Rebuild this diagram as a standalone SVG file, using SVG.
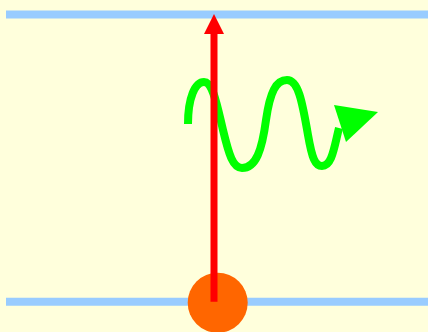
<svg xmlns="http://www.w3.org/2000/svg" width="428" height="332" viewBox="0 0 428 332">
<style>
.rail{stroke:#99CCFF;stroke-width:8;fill:none}
.wave{stroke:#00FF00;stroke-width:8;fill:none;stroke-linecap:butt;stroke-linejoin:round}
</style>
<rect width="428" height="332" fill="#FFFFDC"/>
<g id="rails">
<line class="rail" x1="6" y1="14.5" x2="428" y2="14.5"/>
<line class="rail" x1="6" y1="301.7" x2="428" y2="301.7"/>
</g>
<g id="particle">
<circle cx="217.7" cy="302.7" r="30" fill="#FF6600"/>
</g>
<g id="connectors">
<g id="photon">
<path class="wave" d="M188,124 C188,98 195,82 204,82 C213,82 217,105 223,130 C229,155 233,168 242,168 C256,168 262,150 266,120 C270,92 276,80 287,80 C298,80 302,100 308,135 C312,158 315,166 322,166 C332,166 334,148 339,128"/>
<polygon points="378,112 334,105 346,142" fill="#00FF00"/>
</g>
<g id="arrow">
<line x1="214" y1="301.7" x2="214" y2="32" stroke="#FF0000" stroke-width="7"/>
<polygon points="214,14 204,34 224,34" fill="#FF0000"/>
</g>
</g>
</svg>
